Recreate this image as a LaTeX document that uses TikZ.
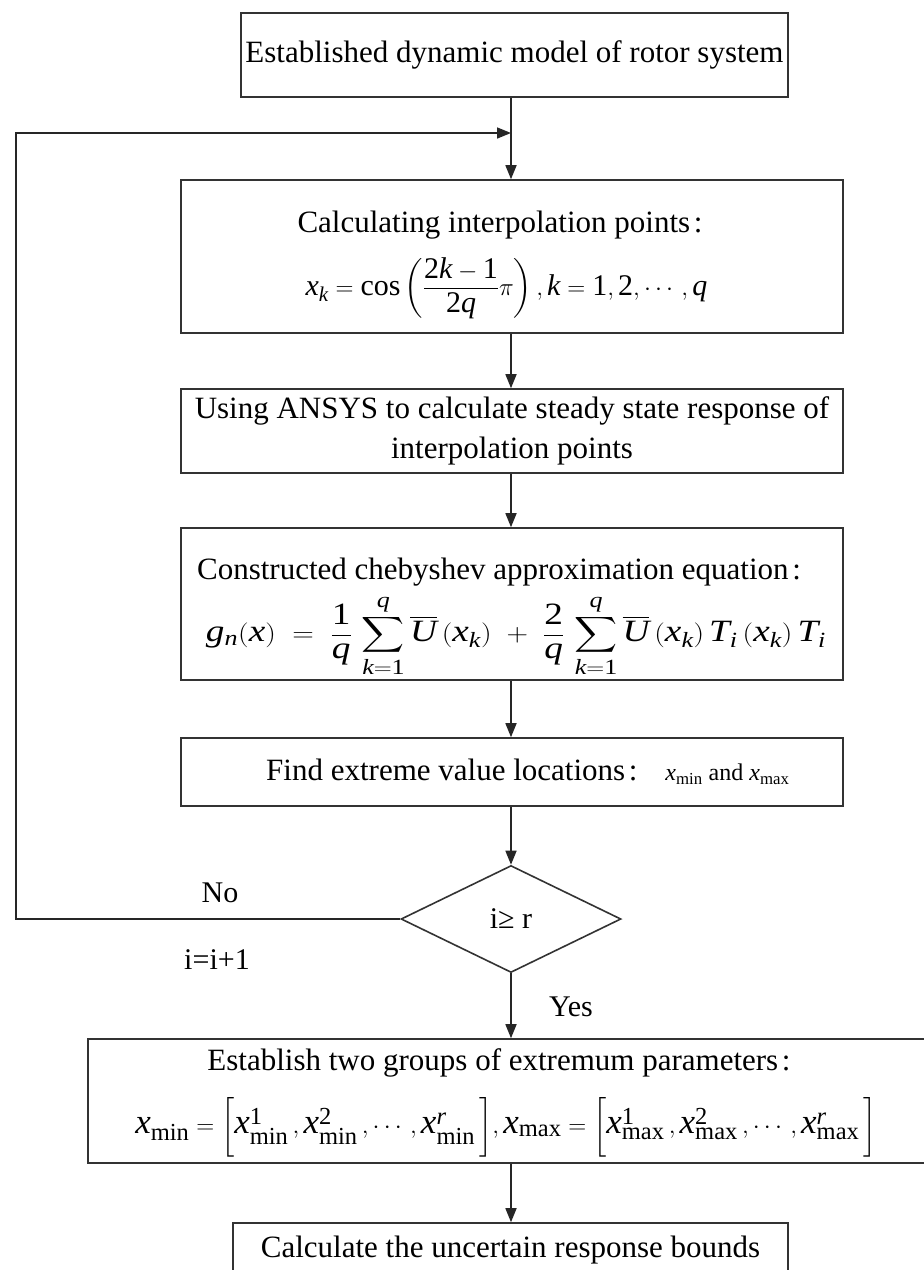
\documentclass[tikz,border=0pt]{standalone}
\usepackage{amsmath}
\usepackage{graphicx}
\usepackage{fontspec}
\setmainfont{Liberation Serif}
\DeclareSymbolFont{tletters}{TU}{\rmdefault}{m}{it}
\DeclareMathSymbol{x}{\mathalpha}{tletters}{`x}
\DeclareMathSymbol{k}{\mathalpha}{tletters}{`k}
\DeclareMathSymbol{q}{\mathalpha}{tletters}{`q}
\DeclareMathSymbol{g}{\mathalpha}{tletters}{`g}
\DeclareMathSymbol{n}{\mathalpha}{tletters}{`n}
\DeclareMathSymbol{U}{\mathalpha}{tletters}{`U}
\DeclareMathSymbol{T}{\mathalpha}{tletters}{`T}
\DeclareMathSymbol{i}{\mathalpha}{tletters}{`i}
\DeclareMathSymbol{r}{\mathalpha}{tletters}{`r}
\usetikzlibrary{arrows.meta,shapes.geometric}
\newcommand{\tcolon}{\hspace{0.12em}:}
\newcommand{\dg}[1]{\text{#1}}
\begin{document}
\begin{tikzpicture}[x=1pt,y=-1pt,
  box/.style={draw=black!80, line width=1.6pt, rectangle, inner sep=0pt, align=center, font=\fontsize{31}{40}\selectfont},
  txt/.style={inner sep=0pt, align=center, font=\fontsize{31}{40}\selectfont},
  arr/.style={draw=black!85, line width=1.6pt, -{Triangle[length=14pt,width=11pt]}},
  ln/.style={draw=black!85, line width=1.6pt},
  lbl/.style={font=\fontsize{30}{36}\selectfont, inner sep=0pt}]
\useasboundingbox (0,0) rectangle (924,1270);
\clip (0,0) rectangle (924,1270);
\fill[white] (0,0) rectangle (924,1270);

% box 1
\node[box, minimum width=547pt, minimum height=84pt] (b1) at (514.5,55) {Established dynamic model of rotor system};

% box 2
\node[box, minimum width=662pt, minimum height=153pt] (b2) at (512,256.5) {};
\node[txt] (t2a) at (500,225) {Calculating interpolation points\tcolon};
\node[txt, font=\fontsize{30}{36}\selectfont] (t2b) at (506.5,288)
  {$x_k=\cos\left(\dfrac{\dg{2}k-\dg{1}}{\dg{2}q}\pi\right),k=\dg{1},\dg{2},\cdots,q$};

% box 3
\node[box, minimum width=662pt, minimum height=84pt] (b3) at (512,431)
  {Using ANSYS to calculate steady state response of\\ interpolation points};

% box 4
\node[box, minimum width=662pt, minimum height=152pt] (b4) at (512,604) {};
\node[txt] (t4a) at (499,572) {Constructed chebyshev approximation equation\tcolon};
\node[txt, font=\fontsize{31}{38}\selectfont] (t4b) at (516,636)
  {\scalebox{1.2}[1]{$\displaystyle g_n\!\left(x\right)\;=\;\frac{\dg{1}}{q}\,\sum_{k=\dg{1}}^{q}\overline{U}\left(x_k\right)\;+\;\frac{\dg{2}}{q}\,\sum_{k=\dg{1}}^{q}\overline{U}\left(x_k\right)T_i\left(x_k\right)T_i$}};

% box 5
\node[box, minimum width=662pt, minimum height=68pt] (b5) at (512,772) {};
\node[txt, anchor=west] (t5) at (266,772)
  {Find extreme value locations\tcolon\hspace{0.9em}{\fontsize{24}{28}\selectfont$x_{\min}$ and $x_{\max}$}};

% decision
\node[draw=black!80, line width=1.6pt, diamond, minimum width=220pt, minimum height=107pt, inner sep=0pt, font=\fontsize{30}{36}\selectfont] (dia) at (511,919) {i≥ r};

% box 6
\node[box, minimum width=838pt, minimum height=124pt] (b6) at (507,1101) {};
\node[txt] (t6a) at (499,1063) {Establish two groups of extremum parameters\tcolon};
\node[txt, font=\fontsize{35}{40}\selectfont] (t6b) at (506,1127)
  {$x_{\min}=\biggl[x^{\dg{1}}_{\min}\,,x^{\dg{2}}_{\min}\,,\cdots,x^{r}_{\min}\,\biggr],x_{\max}=\biggl[x^{\dg{1}}_{\max}\,,x^{\dg{2}}_{\max}\,,\cdots,x^{r}_{\max}\,\biggr]$};

% box 7
\node[box, minimum width=555pt, minimum height=54pt] (b7) at (510.5,1250) {Calculate the uncertain response bounds};

\coordinate (ax) at (511,0);
\coordinate (join) at (511,133);
\coordinate (fbc) at (16,133);

\draw[ln] (b1.south -| ax) -- (join);
\draw[arr] (join) -- (b2.north -| ax);
\draw[arr] (dia.west) -| (fbc) -- (join);
\draw[arr] (b2.south -| ax) -- (b3.north -| ax);
\draw[arr] (b3.south -| ax) -- (b4.north -| ax);
\draw[arr] (b4.south -| ax) -- (b5.north -| ax);
\draw[arr] (b5.south -| ax) -- (dia.north);
\draw[arr] (dia.south) -- (b6.north -| ax);
\draw[arr] (b6.south -| ax) -- (b7.north -| ax);

\node[lbl] (no) at (220,893) {No};
\node[lbl] (inc) at (217,960) {i=i+1};
\node[lbl] (yes) at (571,1007) {Yes};
\end{tikzpicture}
\end{document}
